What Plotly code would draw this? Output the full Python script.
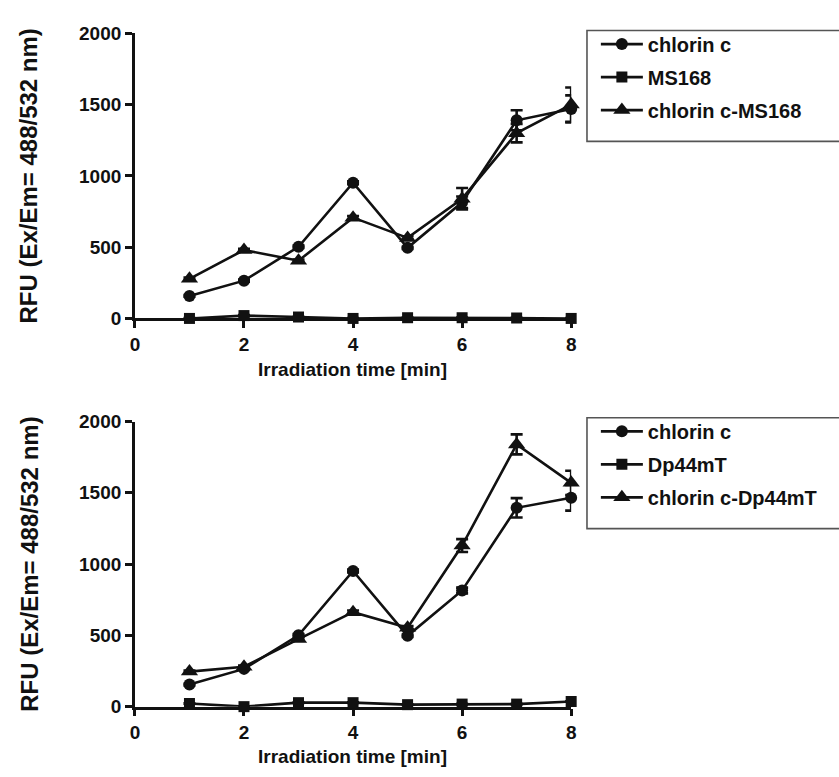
import plotly.graph_objects as go

# ---------------- data ----------------
time_min = [1, 2, 3, 4, 5, 6, 7, 8]
x_ticks = [0, 2, 4, 6, 8]
y_ticks = [0, 500, 1000, 1500, 2000]

top_names = ["chlorin c", "MS168", "chlorin c-MS168"]
top_chlorin = [158, 265, 503, 952, 495, 815, 1390, 1470]
top_chlorin_err = [6, 8, 8, 10, 8, 40, 70, 95]
top_ms168 = [0, 20, 10, 0, 5, 5, 3, 0]
top_ms168_err = [2, 4, 2, 2, 2, 2, 2, 2]
top_conj = [278, 480, 405, 707, 565, 840, 1300, 1500]
top_conj_err = [8, 8, 8, 12, 12, 75, 65, 120]

bot_names = ["chlorin c", "Dp44mT", "chlorin c-Dp44mT"]
bot_chlorin = [155, 265, 501, 952, 497, 815, 1395, 1465]
bot_chlorin_err = [6, 8, 8, 10, 8, 20, 68, 90]
bot_dp = [22, 0, 28, 28, 14, 18, 18, 36]
bot_dp_err = [2, 2, 2, 2, 2, 2, 2, 2]
bot_conj = [246, 280, 474, 663, 553, 1130, 1840, 1570]
bot_conj_err = [8, 8, 8, 12, 12, 45, 70, 85]

# ---------------- figure ----------------
W, H = 839, 777
FONT = "Arial, Liberation Sans, sans-serif"
BLACK = "#111111"
symbols = ["circle", "square", "triangle-up"]
msizes = [12, 11, 15]


def px_x(p):
    return p / W


def px_y(p):
    return 1 - p / H


fig = go.Figure()


def add_panel(names, ys, errs, xa, ya, legend):
    for name, y, e, sym, ms in zip(names, ys, errs, symbols, msizes):
        fig.add_trace(go.Scatter(
            x=time_min, y=y, name=name, mode="lines+markers",
            xaxis=xa, yaxis=ya, legend=legend, legendgroup=legend + name,
            line=dict(color=BLACK, width=2.6),
            marker=dict(symbol=sym, size=ms, color=BLACK, line=dict(width=0)),
            error_y=dict(type="data", array=e, visible=True, color=BLACK,
                         thickness=2.6, width=6),
            cliponaxis=False,
        ))


add_panel(top_names, [top_chlorin, top_ms168, top_conj],
          [top_chlorin_err, top_ms168_err, top_conj_err], "x", "y", "legend")
add_panel(bot_names, [bot_chlorin, bot_dp, bot_conj],
          [bot_chlorin_err, bot_dp_err, bot_conj_err], "x2", "y2", "legend2")

x_dom = [px_x(131.5), px_x(573)]
axis_common = dict(
    showline=True, linecolor=BLACK, linewidth=2.6, ticks="outside",
    ticklen=7, tickwidth=2.6, tickcolor=BLACK, showgrid=False, zeroline=False,
    tickfont=dict(family=FONT, size=19, color=BLACK, weight="bold"),
    layer="below traces",
)

legend_font = dict(family=FONT, size=20, color=BLACK, weight="bold")
fig.update_layout(
    width=W, height=H, autosize=False,
    margin=dict(l=0, r=0, t=0, b=0),
    paper_bgcolor="white", plot_bgcolor="white",
    showlegend=True,
    xaxis=dict(domain=x_dom, range=[0, 8], tickvals=x_ticks, anchor="y", **axis_common),
    yaxis=dict(domain=[px_y(317), px_y(24)], range=[0, 2000], tickvals=y_ticks,
               anchor="x", **axis_common),
    xaxis2=dict(domain=x_dom, range=[0, 8], tickvals=x_ticks, anchor="y2", **axis_common),
    yaxis2=dict(domain=[px_y(716), px_y(423)], range=[0, 2000], tickvals=y_ticks,
                anchor="x2", **axis_common),
    legend=dict(x=px_x(598), y=px_y(15), xanchor="left", yanchor="top",
                bgcolor="rgba(0,0,0,0)", borderwidth=0, tracegroupgap=4,
                itemwidth=42, font=legend_font),
    legend2=dict(x=px_x(598), y=px_y(413), xanchor="left", yanchor="top",
                 bgcolor="rgba(0,0,0,0)", borderwidth=0, tracegroupgap=4,
                 itemwidth=42, font=legend_font),
)

# legend frames (extend past the right edge as in the reference)
for top, bot in [(21, 135), (419, 533)]:
    fig.add_shape(type="rect", xref="paper", yref="paper",
                  x0=px_x(589), x1=1.02, y0=px_y(bot), y1=px_y(top),
                  line=dict(color="#555555", width=1.6), layer="below")

title_font = dict(family=FONT, size=24, color=BLACK, weight="bold")
xt_font = dict(family=FONT, size=19, color=BLACK, weight="bold")
for cy in [(24 + 317) / 2, (423 + 716) / 2]:
    fig.add_annotation(text="RFU (Ex/Em= 488/532 nm)", textangle=-90,
                       xref="paper", yref="paper", x=px_x(24), y=px_y(cy),
                       xanchor="center", yanchor="middle", showarrow=False,
                       font=title_font)
for cy in [369, 767]:
    fig.add_annotation(text="Irradiation time [min]",
                       xref="paper", yref="paper", x=px_x(352), y=px_y(cy),
                       xanchor="center", yanchor="middle", showarrow=False,
                       font=xt_font)

fig.write_html("out.html")
